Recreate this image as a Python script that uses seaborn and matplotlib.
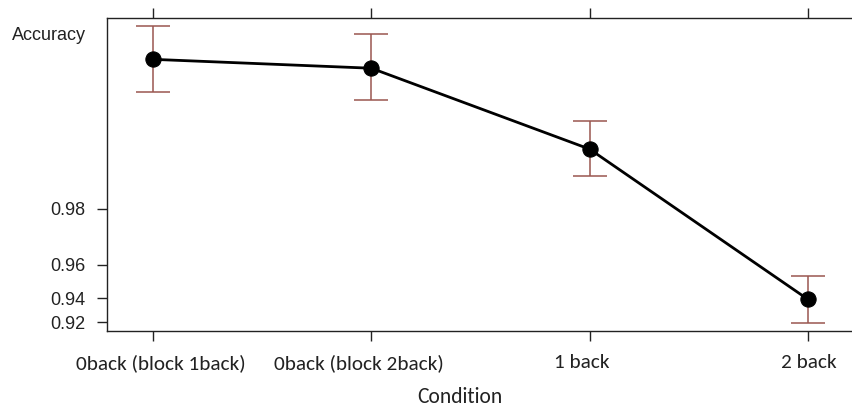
import matplotlib
matplotlib.use("Agg")
import matplotlib.pyplot as plt
import matplotlib.ticker as mticker
from matplotlib.transforms import ScaledTranslation
import seaborn as sns
import pandas as pd

# ---- data ----
conditions = ["0back (block 1back)", "0back (block 2back)", "1 back", "2 back"]
accuracy = [0.9970, 0.99664, 0.9906, 0.9391]
ci_lower = [0.99546, 0.99495, 0.98676, 0.9191]
ci_upper = [0.99804, 0.99782, 0.99338, 0.9543]
ytick_values = [0.92, 0.94, 0.96, 0.98]
ytick_labels = ["0.92", "0.94", "0.96", "0.98"]
label_shift_px = [8, -12, -8, 1]

sns.set_style("white")
plt.rcParams["font.family"] = ["Liberation Sans", "DejaVu Sans"]

W, H, DPI = 852, 407, 100
fig = plt.figure(figsize=(W / DPI, H / DPI), dpi=DPI)
left, right, top, bottom = 107, 854, 18, 331
ax = fig.add_axes([left / W, (H - bottom) / H, (right - left) / W, (bottom - top) / H])

df = pd.DataFrame({"pos": list(range(len(conditions))), "acc": accuracy})

err_low = [a - l for a, l in zip(accuracy, ci_lower)]
err_up = [u - a for a, u in zip(accuracy, ci_upper)]
ax.errorbar(df["pos"], df["acc"], yerr=[err_low, err_up], fmt="none",
            ecolor="#9a5650", elinewidth=1.1, capsize=12, capthick=1.1, zorder=2)

sns.lineplot(data=df, x="pos", y="acc", ax=ax, color="black", linewidth=2.0,
             marker="o", markersize=11, markeredgecolor="black",
             markerfacecolor="black", zorder=3)

ax.set_yscale("logit")
ax.set_ylim(0.9114, 0.99823)
ax.yaxis.set_major_locator(mticker.FixedLocator(ytick_values))
ax.yaxis.set_major_formatter(mticker.FixedFormatter(ytick_labels))
ax.yaxis.set_minor_locator(mticker.NullLocator())

ax.set_xlim(-0.211, 3.211)
ax.set_xticks(list(range(len(conditions))))
ax.set_xticklabels(conditions)

for s in ["left", "bottom", "top"]:
    ax.spines[s].set_visible(True)
    ax.spines[s].set_color("#222222")
    ax.spines[s].set_linewidth(1.0)
ax.spines["right"].set_visible(False)

ax.tick_params(axis="y", which="major", left=True, direction="out", length=7.5,
               width=1.0, color="#222222", labelsize=13, pad=8, labelcolor="#222222")
ax.tick_params(axis="x", which="major", bottom=True, top=True, direction="out",
               length=7.5, width=1.0, color="#222222", pad=9, labelcolor="#222222")

for lab, dx in zip(ax.get_xticklabels(), label_shift_px):
    lab.set_fontfamily(["Carlito", "Lato", "DejaVu Sans"])
    lab.set_fontsize(15.3)
    lab.set_transform(lab.get_transform() + ScaledTranslation(dx / DPI, 0, fig.dpi_scale_trans))

ax.set_xlabel("Condition", fontsize=15.5, family=["Carlito", "Lato", "DejaVu Sans"],
              color="#222222")
ax.xaxis.label.set_va("center")
ax.xaxis.set_label_coords((460 - left) / (right - left), -(397 - bottom) / (bottom - top))

ax.set_ylabel("Accuracy", rotation=0, fontsize=13, color="#222222", ha="left", va="center")
ax.yaxis.set_label_coords((12 - left) / (right - left), (bottom - 35) / (bottom - top))

ax.grid(False)
fig.savefig("out.png", dpi=DPI)
